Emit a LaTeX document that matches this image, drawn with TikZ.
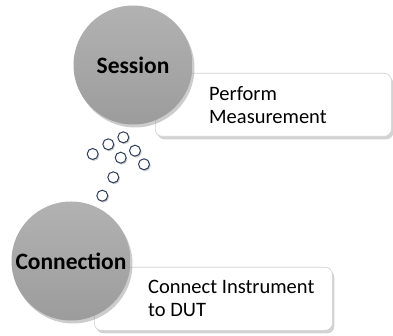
\documentclass[tikz,border=0pt]{standalone}
\usepackage{fontspec}
\setmainfont{Carlito}
\usepackage{tikz}
\usetikzlibrary{shadows}
\definecolor{balltop}{RGB}{178,178,178}
\definecolor{ballbottom}{RGB}{156,156,156}
\definecolor{beadline}{RGB}{46,62,92}
\definecolor{cardline}{RGB}{210,210,210}
\tikzset{ball/.style={circle, minimum size=119pt, inner sep=0pt, top color=balltop, bottom color=ballbottom, drop shadow={opacity=0.4, shadow xshift=2pt, shadow yshift=-3pt}, font=\bfseries\fontsize{23.5}{26}\selectfont},
  card/.style={rectangle, rounded corners=7pt, fill=white, draw=cardline, line width=0.6pt, inner sep=0pt, anchor=north west, drop shadow={opacity=0.35, shadow xshift=2pt, shadow yshift=-3pt}},
  cardtext/.style={anchor=west, align=left, inner sep=0pt, font=\fontsize{20.5}{23}\selectfont},
  bead/.style={circle, minimum size=11pt, inner sep=0pt, fill=white, draw=beadline, line width=1pt, drop shadow={opacity=0.4, shadow xshift=1.2pt, shadow yshift=-1.5pt}}}

\begin{document}
\begin{tikzpicture}[x=1pt, y=-1pt]
      \useasboundingbox (0,0) rectangle (393,336);
      \node [card, minimum width=236pt, minimum height=63pt] (perform) at (155,73) {};
      \node [cardtext] (performtext) at ([xshift=54pt]perform.west) {Perform\\Measurement};
      \node [ball] (session) at (133,65) {Session};

      \node [card, minimum width=238pt, minimum height=63pt] (connect) at (94,267) {};
      \node [cardtext] (connecttext) at ([xshift=54pt]connect.west) {Connect Instrument\\to DUT};
      \node [ball] (connection) at (71,261) {Connection};

      \node [bead] (d1) at (123.3,137.3) {};
      \node [bead] (d2) at (108.3,144.3) {};
      \node [bead] (d3) at (92.7,154) {};
      \node [bead] (d4) at (135,150.7) {};
      \node [bead] (d5) at (120.7,157.7) {};
      \node [bead] (d6) at (144,164.3) {};
      \node [bead] (d7) at (113.3,177.3) {};
      \node [bead] (d8) at (102.3,195.7) {};
    \end{tikzpicture}
\end{document}
